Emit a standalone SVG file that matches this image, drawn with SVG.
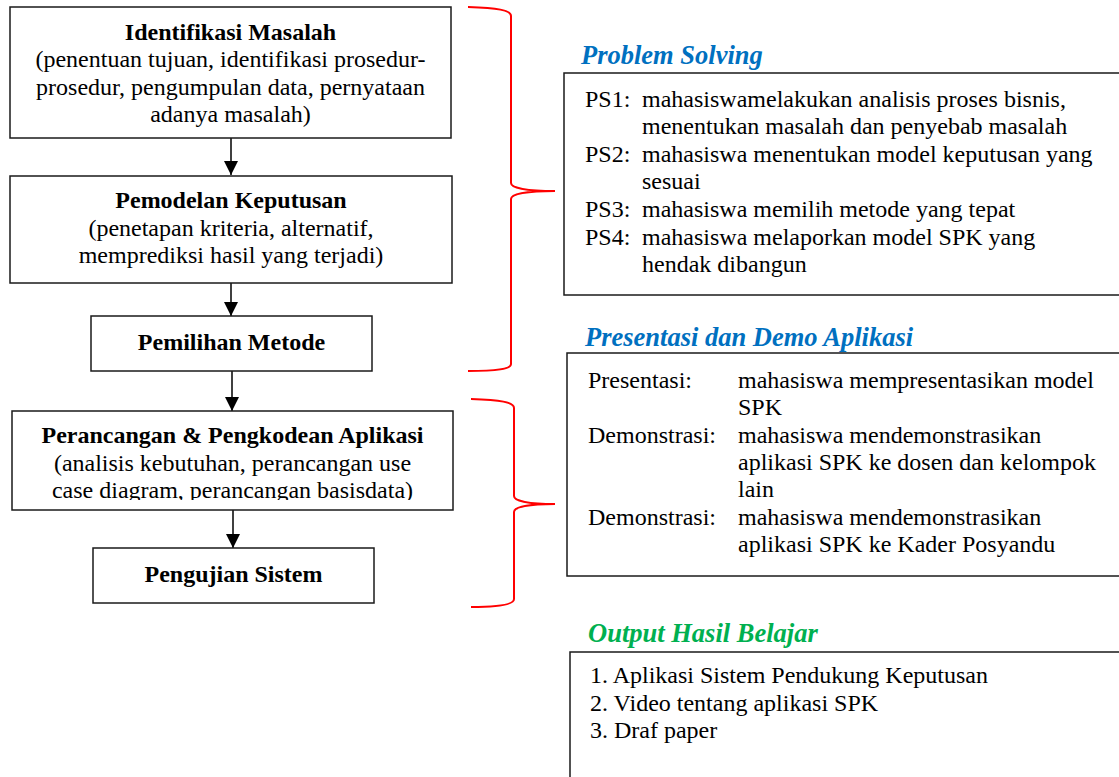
<svg xmlns="http://www.w3.org/2000/svg" width="1119" height="777" viewBox="0 0 1119 777">
<style>
.box{fill:#fff;stroke:#1a1a1a;stroke-width:1.5}
.t{font-family:"Liberation Serif","Times New Roman",serif;font-size:24px;fill:#000}
.b{font-weight:bold}
.c{text-anchor:middle}
.h{font-family:"Liberation Serif","Times New Roman",serif;font-size:26.5px;font-weight:bold;font-style:italic}
.brace{fill:none;stroke:#ff0000;stroke-width:2}
.conn{stroke:#000;stroke-width:1.5;fill:none}
</style>
<defs>
<marker id="ah" markerUnits="userSpaceOnUse" markerWidth="14" markerHeight="14" refX="14" refY="7" orient="auto">
<path d="M0,0 L14,7 L0,14 z" fill="#000"/>
</marker>
<clipPath id="clip4"><rect x="12" y="411" width="441" height="89"/></clipPath>
</defs>
<g id="connectors">
<line class="conn" x1="231" y1="138" x2="231" y2="175" marker-end="url(#ah)"/>
<line class="conn" x1="231" y1="283" x2="231" y2="316" marker-end="url(#ah)"/>
<line class="conn" x1="232" y1="371" x2="232" y2="411" marker-end="url(#ah)"/>
<line class="conn" x1="233" y1="510" x2="233" y2="548" marker-end="url(#ah)"/>
</g>
<g id="node-identifikasi">
<rect class="box" x="10" y="7" width="441" height="131"/>
<text class="t b c" x="230.5" y="40">Identifikasi Masalah</text>
<text class="t c" x="230.5" y="67">(penentuan tujuan, identifikasi prosedur-</text>
<text class="t c" x="230.5" y="95">prosedur, pengumpulan data, pernyataan</text>
<text class="t c" x="230.5" y="122">adanya masalah)</text>
</g>
<g id="node-pemodelan">
<rect class="box" x="10" y="176" width="442" height="107"/>
<text class="t b c" x="231" y="208">Pemodelan Keputusan</text>
<text class="t c" x="231" y="236">(penetapan kriteria, alternatif,</text>
<text class="t c" x="231" y="263">memprediksi hasil yang terjadi)</text>
</g>
<g id="node-pemilihan">
<rect class="box" x="91" y="316" width="281" height="55"/>
<text class="t b c" x="231.5" y="350">Pemilihan Metode</text>
</g>
<g id="node-perancangan">
<rect class="box" x="12" y="411" width="441" height="99"/>
<text class="t b c" x="232.5" y="443">Perancangan &amp; Pengkodean Aplikasi</text>
<text class="t c" x="232.5" y="471">(analisis kebutuhan, perancangan use</text>
<g clip-path="url(#clip4)"><text class="t c" x="232.5" y="498">case diagram, perancangan basisdata)</text></g>
</g>
<g id="node-pengujian">
<rect class="box" x="93" y="548" width="281" height="55"/>
<text class="t b c" x="233.5" y="582">Pengujian Sistem</text>
</g>
<g id="braces">
<path class="brace" d="M468,7 C497,8 511,10 511,16 L511,183 C511,188 527,191 555,191 C527,191 511,194 511,199 L511,364 C511,369 497,371 468,371"/>
<path class="brace" d="M471,399 C500,400 514,402 514,408 L514,496 C514,501 529,504 555,504 C529,504 514,507 514,512 L514,599 C514,604 500,607 471,607"/>
</g>
<g id="node-problem-solving">
<text class="h" x="581" y="64" fill="#0070c0">Problem Solving</text>
<rect class="box" x="564" y="73" width="570" height="222"/>
<text class="t" x="585" y="107">PS1:</text>
<text class="t" x="642" y="107">mahasiswamelakukan analisis proses bisnis,</text>
<text class="t" x="642" y="134">menentukan masalah dan penyebab masalah</text>
<text class="t" x="585" y="162">PS2:</text>
<text class="t" x="642" y="162">mahasiswa menentukan model keputusan yang</text>
<text class="t" x="642" y="189">sesuai</text>
<text class="t" x="585" y="217">PS3:</text>
<text class="t" x="642" y="217">mahasiswa memilih metode yang tepat</text>
<text class="t" x="585" y="245">PS4:</text>
<text class="t" x="642" y="245">mahasiswa melaporkan model SPK yang</text>
<text class="t" x="642" y="272">hendak dibangun</text>
</g>
<g id="node-presentasi">
<text class="h" x="585" y="346" fill="#0070c0">Presentasi dan Demo Aplikasi</text>
<rect class="box" x="567" y="353" width="570" height="223"/>
<text class="t" x="588" y="388">Presentasi:</text>
<text class="t" x="738" y="388">mahasiswa mempresentasikan model</text>
<text class="t" x="738" y="415">SPK</text>
<text class="t" x="588" y="443">Demonstrasi:</text>
<text class="t" x="738" y="443">mahasiswa mendemonstrasikan</text>
<text class="t" x="738" y="470">aplikasi SPK ke dosen dan kelompok</text>
<text class="t" x="738" y="497">lain</text>
<text class="t" x="588" y="525">Demonstrasi:</text>
<text class="t" x="738" y="525">mahasiswa mendemonstrasikan</text>
<text class="t" x="738" y="552">aplikasi SPK ke Kader Posyandu</text>
</g>
<g id="node-output">
<text class="h" x="588" y="642" fill="#00b050">Output Hasil Belajar</text>
<rect class="box" x="570" y="652" width="570" height="140"/>
<text class="t" x="590" y="683">1. Aplikasi Sistem Pendukung Keputusan</text>
<text class="t" x="590" y="711">2. Video tentang aplikasi SPK</text>
<text class="t" x="590" y="738">3. Draf paper</text>
</g>
</svg>
